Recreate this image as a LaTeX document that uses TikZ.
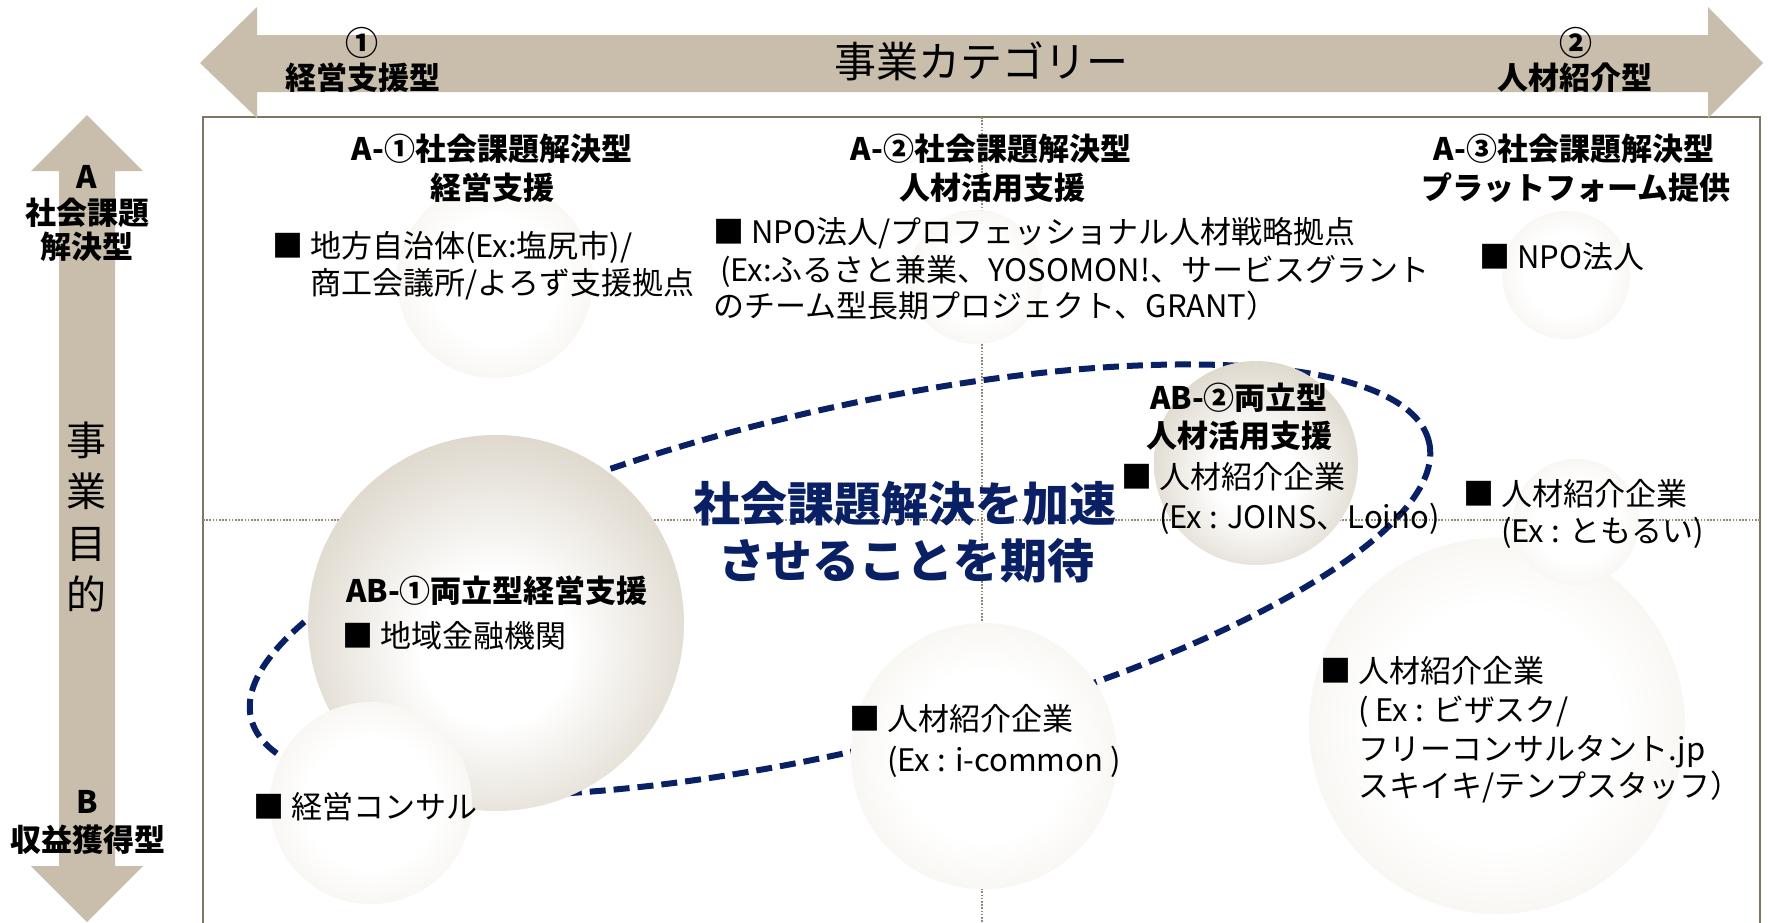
\documentclass[tikz,border=0pt]{standalone}
\usepackage{fontspec}
\setmainfont{Noto Sans CJK JP}
\definecolor{tanc}{RGB}{201,190,171}
\definecolor{framec}{RGB}{128,117,101}
\definecolor{dotc}{RGB}{150,136,116}
\definecolor{navyc}{RGB}{10,32,100}
\definecolor{sphDc}{RGB}{178,168,147}
\definecolor{sphDm}{RGB}{218,211,198}
\definecolor{sphLc}{RGB}{226,219,206}
\definecolor{sphLm}{RGB}{242,239,232}
\pgfdeclareradialshading{sphdark}{\pgfpoint{0bp}{-4bp}}{color(0bp)=(white); color(10bp)=(white); color(30bp)=(sphDm); color(50bp)=(sphDc); color(72bp)=(sphDc)}
\pgfdeclareradialshading{sphlight}{\pgfpoint{0bp}{0bp}}{color(0bp)=(white); color(16bp)=(white); color(34bp)=(sphLm); color(50bp)=(sphLc); color(72bp)=(sphLc)}
\begin{document}
\begin{tikzpicture}[x=1pt,y=-1pt,
  tx/.style={inner sep=0pt, font=\fontsize{31}{37}\selectfont},
  bx/.style={inner sep=0pt, font=\fontsize{31}{37}\selectfont\bfseries},
  cx/.style={inner sep=0pt, font=\fontsize{33}{40}\selectfont\bfseries},
  vx/.style={inner sep=0pt, font=\fontsize{40}{48}\selectfont},
  mx/.style={inner sep=0pt, font=\fontsize{47}{56}\selectfont\bfseries, text=navyc},
  dots/.style={dotc, line width=2pt, dash pattern=on 1.6pt off 1.6pt},
  ring/.style={navyc, line width=6pt, dash pattern=on 16pt off 8pt},
  dark/.style={shading=sphdark},
  light/.style={shading=sphlight}]
\useasboundingbox (0,0) rectangle (1768,922);
\fill[white] (0,0) rectangle (1768,922);
% frame
\draw[framec, line width=2pt] (203,930) -- (203,117) -- (1760,117) -- (1760,930);
% dotted dividers
\draw[dots] (982,117) -- (982,922);
\draw[dots] (203,520) -- (1760,520);
% dashed ellipse (behind the spheres)
\draw[ring, rotate around={13.2:(840,580)}] (840,580) ellipse[x radius=605pt, y radius=170pt];
% spheres
\shade[light] (495,280) circle[radius=98pt];
\shade[light] (976,277) circle[radius=67pt];
\shade[light] (1566,275) circle[radius=64pt];
\shade[light] (1497,726) circle[radius=188pt];
\shade[light] (1576,522) circle[radius=63pt];
\shade[dark] (1256,463) circle[radius=102pt];
\shade[dark] (496,623) circle[radius=188pt];
\shade[light] (371,803) circle[radius=101pt];
\shade[light] (984,756) circle[radius=133pt];
% arrows
\fill[tanc] (200,63) -- (257,7) -- (257,35) -- (1708,35) -- (1708,7) -- (1763,63)
  -- (1708,118) -- (1708,92) -- (257,92) -- (257,118) -- cycle;
\fill[tanc] (87,115) -- (143,171) -- (115,171) -- (115,866) -- (143,866) -- (87,922)
  -- (31,866) -- (59,866) -- (59,171) -- (31,171) -- cycle;
% top arrow texts
\node[cx, anchor=base] (c1) at (362,55) {①};
\node[bx, anchor=base] (c1t) at (363,89) {経営支援型};
\node[inner sep=0pt, font=\fontsize{42}{50}\selectfont, anchor=base] (cat) at (981,77) {事業カテゴリー};
\node[cx, anchor=base] (c2) at (1576,55) {②};
\node[bx, anchor=base] (c2t) at (1575,89) {人材紹介型};
% left arrow texts
\node[bx, anchor=base] (la) at (87,188) {A};
\node[bx, anchor=base] (lb) at (87,224.5) {社会課題};
\node[bx, anchor=base] (lc) at (87,258.5) {解決型};
\node[vx, anchor=base] (v1) at (86,455) {事};
\node[vx, anchor=base] (v2) at (86,506) {業};
\node[vx, anchor=base] (v3) at (86,558) {目};
\node[vx, anchor=base] (v4) at (86,609) {的};
\node[bx, anchor=base] (lB) at (87,813) {B};
\node[bx, anchor=base] (lB2) at (88,851.5) {収益獲得型};
% quadrant headers
\node[bx, anchor=base] (h1a) at (492,160.5) {A-①社会課題解決型};
\node[bx, anchor=base] (h1b) at (492,199.5) {経営支援};
\node[bx, anchor=base] (h2a) at (991,160.5) {A-②社会課題解決型};
\node[bx, anchor=base] (h2b) at (992,199.5) {人材活用支援};
\node[bx, anchor=base] (h3a) at (1574,160.5) {A-③社会課題解決型};
\node[bx, anchor=base] (h3b) at (1576,199.5) {プラットフォーム提供};
% body texts
\node[tx, anchor=base west] (b1a) at (272,257) {■ 地方自治体(Ex:塩尻市)/};
\node[tx, anchor=base west] (b1b) at (272,294.5) {\phantom{■ }商工会議所/よろず支援拠点};
\node[tx, anchor=base west] (b2a) at (713,243.5) {■ NPO法人/プロフェッショナル人材戦略拠点};
\node[tx, anchor=base west] (b2b) at (720,281.5) {(Ex:ふるさと兼業、YOSOMON!、サービスグラント};
\node[tx, anchor=base west] (b2c) at (713,317.5) {のチーム型長期プロジェクト、GRANT）};
\node[tx, anchor=base west] (b3) at (1479,268.5) {■ NPO法人};
\node[bx, anchor=base] (h4a) at (1239,409.5) {AB-②両立型};
\node[bx, anchor=base] (h4b) at (1239,447.5) {人材活用支援};
\node[tx, anchor=base west] (b4a) at (1121,488.5) {■ 人材紹介企業};
\node[tx, anchor=base west] (b4b) at (1121,528.5) {\phantom{■ }(Ex : JOINS、Loino)};
\node[tx, anchor=base west] (b5a) at (1463,505.5) {■ 人材紹介企業};
\node[tx, anchor=base west] (b5b) at (1463,542.5) {\phantom{■ }(Ex : ともるい)};
\node[bx, anchor=base] (h5) at (497,602.5) {AB-①両立型経営支援};
\node[tx, anchor=base west] (b6) at (342,647.5) {■ 地域金融機関};
\node[tx, anchor=base west] (b7) at (253,818.5) {■ 経営コンサル};
\node[tx, anchor=base west] (b8a) at (849,730.5) {■ 人材紹介企業};
\node[tx, anchor=base west] (b8b) at (849,771.5) {\phantom{■ }(Ex : i-common )};
\node[tx, anchor=base west] (b9a) at (1320,682.5) {■ 人材紹介企業};
\node[tx, anchor=base west] (b9b) at (1320,721.5) {\phantom{■ }( Ex : ビザスク/};
\node[tx, anchor=base west] (b9c) at (1320,760.5) {\phantom{■ }フリーコンサルタント.jp};
\node[tx, anchor=base west] (b9d) at (1320,797.5) {\phantom{■ }スキイキ/テンプスタッフ）};
% central message
\node[mx, anchor=base] (m1) at (905,521.5) {社会課題解決を加速};
\node[mx, anchor=base] (m2) at (906,578.5) {させることを期待};
\end{tikzpicture}
\end{document}
